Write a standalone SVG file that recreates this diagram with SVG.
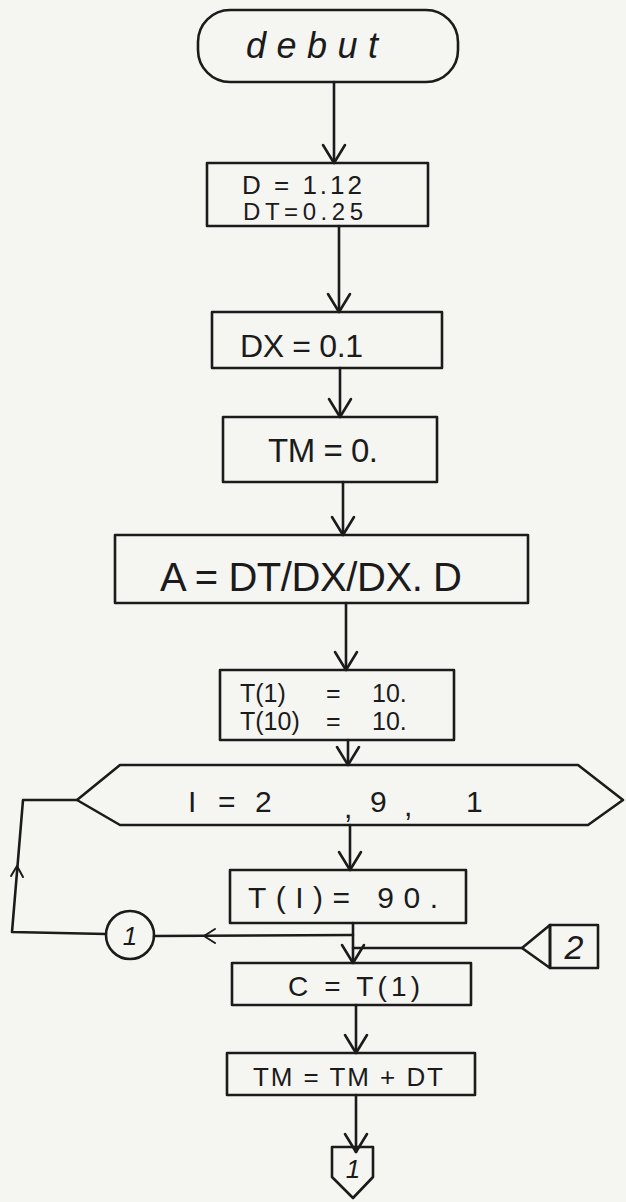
<svg xmlns="http://www.w3.org/2000/svg" width="626" height="1202" viewBox="0 0 626 1202">
<defs>
<style>
.bg{fill:#f5f5f2}
.s{fill:none;stroke:#1b1b1b;stroke-width:2.6;stroke-linejoin:round;stroke-linecap:round}
.c{fill:none;stroke:#1b1b1b;stroke-width:2;stroke-linecap:round;stroke-linejoin:round}
.t{font-family:"Liberation Sans",Arial,sans-serif;fill:#1b1b1b}
.a{marker-end:url(#ah)}
</style>
<marker id="ah" markerUnits="userSpaceOnUse" markerWidth="30" markerHeight="30" viewBox="0 0 30 30" refX="26" refY="15" orient="auto">
<path d="M8,4 L26,15 L8,26" fill="none" stroke="#1b1b1b" stroke-width="2.6" stroke-linecap="round" stroke-linejoin="round"/>
</marker>
</defs>
<rect class="bg" x="0" y="0" width="626" height="1202"/>

<g id="connectors">
<line class="s a" x1="334" y1="82" x2="334" y2="163"/>
<line class="s a" x1="339" y1="226" x2="339" y2="312"/>
<line class="s a" x1="340" y1="368" x2="340" y2="417"/>
<line class="s a" x1="343" y1="482" x2="343" y2="535"/>
<line class="s a" x1="346" y1="603" x2="346" y2="670"/>
<line class="s a" x1="348" y1="740" x2="348" y2="765"/>
<line class="s a" x1="350" y1="825" x2="350" y2="870"/>
<line class="s a" x1="353" y1="923" x2="353" y2="963"/>
<polyline class="s" points="353,935 154,936"/>
<path class="c" d="M215,929 L204,936 L215,943"/>
<polyline class="s" points="106,934 12,932 23,800 77,800"/>
<path class="c" d="M11,876 L17,866 L23,877"/>
<line class="s" x1="522" y1="948" x2="353" y2="948"/>
<line class="s a" x1="356" y1="1005" x2="356" y2="1053"/>
<line class="s a" x1="356" y1="1095" x2="356" y2="1152"/>
</g>

<g id="debut">
<rect class="s" x="198" y="10" width="260" height="72" rx="32" ry="32"/>
<text class="t" x="246" y="58" font-size="36" font-style="italic" textLength="132" lengthAdjust="spacing">debut</text>
</g>

<g id="box1">
<rect class="s" x="207" y="163" width="221" height="63"/>
<text class="t" x="242" y="194" font-size="26" textLength="120" lengthAdjust="spacing">D = 1.12</text>
<text class="t" x="243" y="220" font-size="24" textLength="120" lengthAdjust="spacing">DT=0.25</text>
</g>

<g id="box2">
<rect class="s" x="212" y="312" width="230" height="56"/>
<text class="t" x="240" y="357" font-size="32" textLength="123" lengthAdjust="spacing">DX = 0.1</text>
</g>

<g id="box3">
<rect class="s" x="223" y="417" width="214" height="65"/>
<text class="t" x="268" y="462" font-size="33" textLength="110" lengthAdjust="spacing">TM = 0.</text>
</g>

<g id="box4">
<rect class="s" x="115" y="535" width="413" height="68"/>
<text class="t" x="160" y="591" font-size="40" textLength="302" lengthAdjust="spacing">A = DT/DX/DX. D</text>
</g>

<g id="box5">
<rect class="s" x="220" y="670" width="234" height="70"/>
<text class="t" font-size="25"><tspan x="240" y="702">T(1)</tspan><tspan x="326" y="702">=</tspan><tspan x="372" y="702">10.</tspan></text>
<text class="t" font-size="25"><tspan x="240" y="730">T(10)</tspan><tspan x="326" y="730">=</tspan><tspan x="372" y="730">10.</tspan></text>
</g>

<g id="loop">
<polygon class="s" points="77,800 120,765 578,765 623,800 588,825 120,825"/>
<text class="t" font-size="30"><tspan x="188" y="812">I</tspan><tspan x="218" y="812">=</tspan><tspan x="255" y="812">2</tspan><tspan x="344" y="818">,</tspan><tspan x="370" y="812">9</tspan><tspan x="404" y="816">,</tspan><tspan x="466" y="812">1</tspan></text>
</g>

<g id="box6">
<rect class="s" x="230" y="870" width="236" height="53"/>
<text class="t" x="248" y="908" font-size="30" textLength="190" lengthAdjust="spacing">T(I)= 90.</text>
</g>

<g id="conn1">
<circle class="s" cx="130" cy="935" r="24"/>
<text class="t" x="130" y="945" font-size="26" font-style="italic" text-anchor="middle">1</text>
</g>

<g id="conn2">
<polygon class="s" points="522,948 550,925 550,968"/>
<rect class="s" x="550" y="925" width="48" height="43"/>
<text class="t" x="574" y="959" font-size="34" font-style="italic" text-anchor="middle">2</text>
</g>

<g id="box7">
<rect class="s" x="232" y="963" width="239" height="42"/>
<text class="t" x="288" y="996" font-size="28" textLength="132" lengthAdjust="spacing">C = T(1)</text>
</g>

<g id="box8">
<rect class="s" x="227" y="1053" width="248" height="42"/>
<text class="t" x="253" y="1086" font-size="26" textLength="190" lengthAdjust="spacing">TM = TM + DT</text>
</g>

<g id="offpage">
<polygon class="s" points="332,1147 373,1147 373,1177 353,1198 332,1177"/>
<text class="t" x="353" y="1178" font-size="26" font-style="italic" text-anchor="middle">1</text>
</g>
</svg>
